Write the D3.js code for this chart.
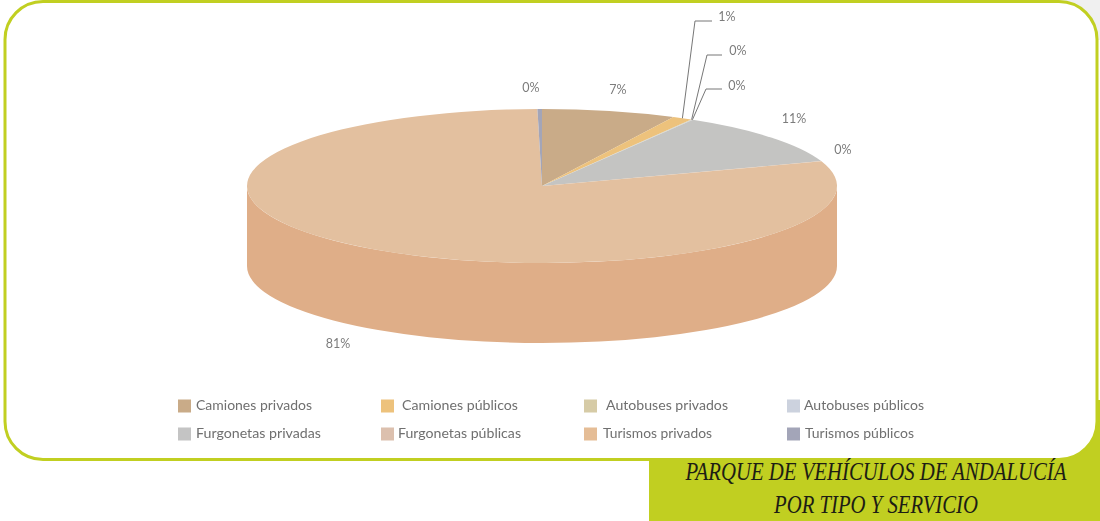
<!DOCTYPE html>
<html lang="es">
<head>
<meta charset="utf-8">
<script src="https://cdn.jsdelivr.net/npm/d3@7"></script>
<style>
  html, body { margin: 0; padding: 0; background: #fff; overflow: hidden; }
  svg { display: block; }
  .legend-label, .pct { font-family: Lato, "Noto Sans", sans-serif; filter: url(#soft); }
  .legend-label { font-size: 13px; fill: #6f6f6f; }
  .pct { font-size: 12.5px; text-anchor: middle; fill: #7c7c7c; }
  .title { font-family: "Liberation Serif", serif; font-style: italic; font-size: 25px; fill: #1d1d14; }
</style>
</head>
<body>
<div id="chart"></div>
<script>
const width = 1100;
const height = 521;

// Datos, en el orden de la leyenda
const categories = [
    "Camiones privados", "Camiones públicos", "Autobuses privados", "Autobuses públicos",
    "Furgonetas privadas", "Furgonetas públicas", "Turismos privados", "Turismos públicos"
];
const values = [7.4, 1.1, 0.05, 0.05, 11.3, 0.05, 80.5, 0.25];
const valueLabels = ["7%", "1%", "0%", "0%", "11%", "0%", "81%", "0%"];
const topColors = ["#c9ab88", "#edc27c", "#d6cba6", "#ccd2de", "#c4c4c2", "#dcc0ae", "#e3c09f", "#a3a5b8"];
const legendColors = ["#c9ab88", "#edc27c", "#d6cba6", "#ccd2de", "#c4c4c4", "#dcc0ae", "#e5bd96", "#a3a5b8"];
const sideColors = ["#b8946c", "#dcae62", "#c4b88e", "#b6bccb", "#aeaeac", "#cba890", "#dfae88", "#8f91a6"];
const titleLines = ["PARQUE DE VEHÍCULOS DE ANDALUCÍA", "POR TIPO Y SERVICIO"];

// Geometría del queso
const cx = 542, cy = 186, rx = 295, ry = 77, depth = 80;

const svg = d3.select("#chart")
    .append("svg")
    .attr("width", width)
    .attr("height", height)
    .attr("viewBox", `0 0 ${width} ${height}`);

svg.append("defs")
    .append("filter")
    .attr("id", "soft")
    .append("feGaussianBlur")
    .attr("stdDeviation", 0.45);

// Sombra muy clara fuera de la esquina superior derecha
svg.append("rect")
    .attr("x", 1060).attr("y", 0)
    .attr("width", 40).attr("height", 40)
    .attr("fill", "#f0f0f0");

// Caja verde del título, detrás del panel
const green = "#c1cf21";
svg.append("rect")
    .attr("x", 649).attr("y", 400)
    .attr("width", 451).attr("height", 121)
    .attr("fill", green);

svg.append("rect")
    .attr("x", 5).attr("y", 1.5)
    .attr("width", 1092).attr("height", 458)
    .attr("rx", 38).attr("ry", 38)
    .attr("fill", "#fff")
    .attr("stroke", green)
    .attr("stroke-width", 3);

const pie = d3.pie()
    .sort(null)
    .startAngle(0)
    .endAngle(2 * Math.PI);
const slices = pie(values);

const xAt = a => rx * Math.sin(a);
const yAt = a => -ry * Math.cos(a);

const pieG = svg.append("g").attr("transform", `translate(${cx},${cy})`);

// Pared lateral: sólo la mitad delantera de la elipse
const front = [Math.PI / 2, 3 * Math.PI / 2];
pieG.selectAll("path.side")
    .data(slices)
    .join("path")
    .attr("class", "side")
    .attr("fill", (d, i) => sideColors[i])
    .attr("d", d => {
        const a0 = Math.max(d.startAngle, front[0]);
        const a1 = Math.min(d.endAngle, front[1]);
        if (a1 <= a0) return null;
        const large = a1 - a0 > Math.PI ? 1 : 0;
        return `M${xAt(a0)},${yAt(a0)}`
            + `A${rx},${ry} 0 ${large} 1 ${xAt(a1)},${yAt(a1)}`
            + `L${xAt(a1)},${yAt(a1) + depth}`
            + `A${rx},${ry} 0 ${large} 0 ${xAt(a0)},${yAt(a0) + depth}Z`;
    });

// Cara superior: d3.arc con radio rx, aplastada en vertical
const arc = d3.arc().innerRadius(0).outerRadius(rx);
pieG.append("g")
    .attr("transform", `scale(1,${ry / rx})`)
    .selectAll("path.top")
    .data(slices)
    .join("path")
    .attr("class", "top")
    .attr("fill", (d, i) => topColors[i])
    .attr("d", arc);

// Etiquetas de porcentaje: [dx, dy] respecto al centro del queso
const labelPos = [[76, -96], [185, -169], [196, -135], [195, -100], [252, -67], [301, -36], [-204, 158], [-11, -98]];
// Codos de las líneas guía (sólo las etiquetas que salen hacia fuera)
const leaders = { 1: [[153, -165], [170, -165]], 2: [[165, -131], [180, -131]], 3: [[164, -97], [180, -97]] };

Object.entries(leaders).forEach(([i, pts]) => {
    const d = slices[+i];
    const mid = (d.startAngle + d.endAngle) / 2;
    pieG.append("path")
        .attr("fill", "none")
        .attr("stroke", "#777")
        .attr("stroke-width", 1)
        .attr("d", d3.line()([[xAt(mid), yAt(mid)], ...pts]));
});

pieG.selectAll("text.pct")
    .data(valueLabels)
    .join("text")
    .attr("class", "pct")
    .attr("x", (d, i) => labelPos[i][0])
    .attr("y", (d, i) => labelPos[i][1])
    .attr("dy", "0.35em")
    .text(d => d);

// Leyenda
const legendX = d3.scalePoint().domain(d3.range(4)).range([178, 787]);
const legendY = d3.scalePoint().domain([0, 1]).range([406, 434]);
const labelGap = [18, 21, 22, 17, 18, 17, 19, 18];
const labelWidth = [116, 116, 122, 120, 125, 123, 109, 109];

const legend = svg.append("g")
    .selectAll("g")
    .data(categories)
    .join("g")
    .attr("transform", (d, i) => `translate(${legendX(i % 4)},${legendY(Math.floor(i / 4))})`);

legend.append("rect")
    .attr("x", 0).attr("y", -6.5)
    .attr("width", 13).attr("height", 13)
    .attr("fill", (d, i) => legendColors[i]);

legend.append("text")
    .attr("class", "legend-label")
    .attr("x", (d, i) => labelGap[i])
    .attr("y", -1)
    .attr("dy", "0.35em")
    .attr("textLength", (d, i) => labelWidth[i])
    .attr("lengthAdjust", "spacingAndGlyphs")
    .text(d => d);

// Título: se estrecha con scale para que quepa en la caja
const titleWidth = [381, 204];
svg.selectAll("text.title")
    .data(titleLines)
    .join("text")
    .attr("class", "title")
    .attr("text-anchor", "middle")
    .text(d => d)
    .attr("transform", function(d, i) {
        const sx = titleWidth[i] / this.getComputedTextLength();
        return `translate(876,${480 + i * 33}) scale(${sx},1)`;
    });
</script>
</body>
</html>
